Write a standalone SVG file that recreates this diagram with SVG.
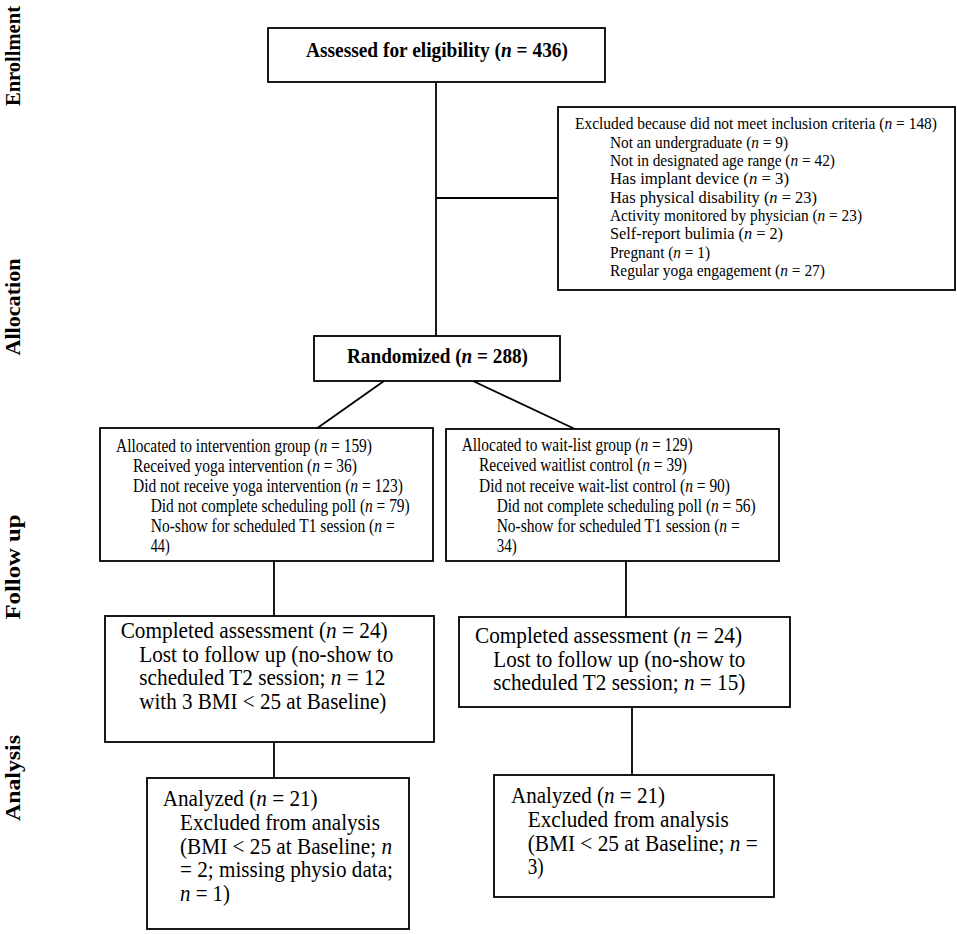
<svg xmlns="http://www.w3.org/2000/svg" width="957" height="934" viewBox="0 0 957 934">
<style>
 .box{fill:#fff;stroke:#000;stroke-width:1.8}
 .ln{stroke:#000;stroke-width:1.8;fill:none}
 text{font-family:"Liberation Serif","Times New Roman",serif;fill:#000}
 .lbl{font-weight:bold;font-size:21px}
 .t{font-weight:bold;font-size:22px}
 .r{font-weight:bold;font-size:20px}
 .s{font-size:17.5px}
 .m{font-size:18px}
 .l{font-size:23px}
 .i{font-style:italic}
</style>
<rect width="957" height="934" fill="#fff"/>
<g id="phases">
 <text class="lbl" transform="translate(20,56) rotate(-90)" text-anchor="middle" textLength="100" lengthAdjust="spacingAndGlyphs">Enrollment</text>
 <text class="lbl" transform="translate(20,307) rotate(-90)" text-anchor="middle" textLength="97" lengthAdjust="spacingAndGlyphs">Allocation</text>
 <text class="lbl" transform="translate(20,567) rotate(-90)" text-anchor="middle" textLength="105" lengthAdjust="spacingAndGlyphs">Follow up</text>
 <text class="lbl" transform="translate(20,778) rotate(-90)" text-anchor="middle" textLength="86" lengthAdjust="spacingAndGlyphs">Analysis</text>
</g>
<g id="connectors">
 <path class="ln" d="M436 82V336"/>
 <path class="ln" d="M436 198H558"/>
 <path class="ln" d="M384 381L316 429"/>
 <path class="ln" d="M473 381L577 430"/>
 <path class="ln" d="M274 561V616"/>
 <path class="ln" d="M626 561V617"/>
 <path class="ln" d="M274 742V778"/>
 <path class="ln" d="M632 707V775"/>
</g>
<g id="assessed">
 <rect class="box" x="268" y="28" width="337" height="54"/>
 <text class="t" x="306" y="57" textLength="262" lengthAdjust="spacingAndGlyphs">Assessed for eligibility (<tspan class="i">n</tspan> = 436)</text>
</g>
<g id="excluded">
 <rect class="box" x="558" y="107" width="397" height="183"/>
 <text class="s" x="575" y="129.3" textLength="362" lengthAdjust="spacingAndGlyphs">Excluded because did not meet inclusion criteria (<tspan class="i">n</tspan> = 148)</text>
 <text class="s" x="610" y="147.7" textLength="178" lengthAdjust="spacingAndGlyphs">Not an undergraduate (<tspan class="i">n</tspan> = 9)</text>
 <text class="s" x="610" y="166" textLength="225" lengthAdjust="spacingAndGlyphs">Not in designated age range (<tspan class="i">n</tspan> = 42)</text>
 <text class="s" x="610" y="184.3" textLength="179" lengthAdjust="spacingAndGlyphs">Has implant device (<tspan class="i">n</tspan> = 3)</text>
 <text class="s" x="610" y="202.7" textLength="207" lengthAdjust="spacingAndGlyphs">Has physical disability (<tspan class="i">n</tspan> = 23)</text>
 <text class="s" x="610" y="221" textLength="252" lengthAdjust="spacingAndGlyphs">Activity monitored by physician (<tspan class="i">n</tspan> = 23)</text>
 <text class="s" x="610" y="239.3" textLength="173" lengthAdjust="spacingAndGlyphs">Self-report bulimia (<tspan class="i">n</tspan> = 2)</text>
 <text class="s" x="610" y="257.7" textLength="100" lengthAdjust="spacingAndGlyphs">Pregnant (<tspan class="i">n</tspan> = 1)</text>
 <text class="s" x="610" y="276" textLength="215" lengthAdjust="spacingAndGlyphs">Regular yoga engagement (<tspan class="i">n</tspan> = 27)</text>
</g>
<g id="randomized">
 <rect class="box" x="314" y="336" width="246" height="45"/>
 <text class="r" x="347" y="363" textLength="181" lengthAdjust="spacingAndGlyphs">Randomized (<tspan class="i">n</tspan> = 288)</text>
</g>
<g id="intervention">
 <rect class="box" x="100" y="428" width="333" height="133"/>
 <text class="m" x="116" y="451.7" textLength="256" lengthAdjust="spacingAndGlyphs">Allocated to intervention group (<tspan class="i">n</tspan> = 159)</text>
 <text class="m" x="133" y="471.7" textLength="224" lengthAdjust="spacingAndGlyphs">Received yoga intervention (<tspan class="i">n</tspan> = 36)</text>
 <text class="m" x="133" y="491.7" textLength="270" lengthAdjust="spacingAndGlyphs">Did not receive yoga intervention (<tspan class="i">n</tspan> = 123)</text>
 <text class="m" x="150.7" y="511.7" textLength="259" lengthAdjust="spacingAndGlyphs">Did not complete scheduling poll (<tspan class="i">n</tspan> = 79)</text>
 <text class="m" x="150.7" y="531.7" textLength="244" lengthAdjust="spacingAndGlyphs">No-show for scheduled T1 session (<tspan class="i">n</tspan> =</text>
 <text class="m" x="150.7" y="551.7" textLength="19" lengthAdjust="spacingAndGlyphs">44)</text>
</g>
<g id="waitlist">
 <rect class="box" x="446" y="429" width="333" height="132"/>
 <text class="m" x="461.7" y="451" textLength="231" lengthAdjust="spacingAndGlyphs">Allocated to wait-list group (<tspan class="i">n</tspan> = 129)</text>
 <text class="m" x="479" y="471.3" textLength="208" lengthAdjust="spacingAndGlyphs">Received waitlist control (<tspan class="i">n</tspan> = 39)</text>
 <text class="m" x="479" y="491.7" textLength="251" lengthAdjust="spacingAndGlyphs">Did not receive wait-list control (<tspan class="i">n</tspan> = 90)</text>
 <text class="m" x="496.7" y="511.7" textLength="259" lengthAdjust="spacingAndGlyphs">Did not complete scheduling poll (<tspan class="i">n</tspan> = 56)</text>
 <text class="m" x="496.7" y="531.7" textLength="243" lengthAdjust="spacingAndGlyphs">No-show for scheduled T1 session (<tspan class="i">n</tspan> =</text>
 <text class="m" x="496.7" y="551.7" textLength="20" lengthAdjust="spacingAndGlyphs">34)</text>
</g>
<g id="completed-left">
 <rect class="box" x="105" y="616" width="329" height="126"/>
 <text class="l" x="120.7" y="638" textLength="267" lengthAdjust="spacingAndGlyphs">Completed assessment (<tspan class="i">n</tspan> = 24)</text>
 <text class="l" x="139.3" y="661.5" textLength="254" lengthAdjust="spacingAndGlyphs">Lost to follow up (no-show to</text>
 <text class="l" x="139.3" y="685" textLength="246" lengthAdjust="spacingAndGlyphs">scheduled T2 session; <tspan class="i">n</tspan> = 12</text>
 <text class="l" x="139.3" y="708.5" textLength="247" lengthAdjust="spacingAndGlyphs">with 3 BMI &lt; 25 at Baseline)</text>
</g>
<g id="completed-right">
 <rect class="box" x="459" y="617" width="331" height="90"/>
 <text class="l" x="475" y="643" textLength="267" lengthAdjust="spacingAndGlyphs">Completed assessment (<tspan class="i">n</tspan> = 24)</text>
 <text class="l" x="493.3" y="666.5" textLength="252" lengthAdjust="spacingAndGlyphs">Lost to follow up (no-show to</text>
 <text class="l" x="493.3" y="690" textLength="252" lengthAdjust="spacingAndGlyphs">scheduled T2 session; <tspan class="i">n</tspan> = 15)</text>
</g>
<g id="analyzed-left">
 <rect class="box" x="147" y="778" width="262" height="151"/>
 <text class="l" x="162.7" y="806" textLength="155" lengthAdjust="spacingAndGlyphs">Analyzed (<tspan class="i">n</tspan> = 21)</text>
 <text class="l" x="180" y="830" textLength="200" lengthAdjust="spacingAndGlyphs">Excluded from analysis</text>
 <text class="l" x="180" y="853.7" textLength="212" lengthAdjust="spacingAndGlyphs">(BMI &lt; 25 at Baseline; <tspan class="i">n</tspan></text>
 <text class="l" x="180" y="877.3" textLength="213" lengthAdjust="spacingAndGlyphs">= 2; missing physio data;</text>
 <text class="l" x="180" y="901" textLength="50" lengthAdjust="spacingAndGlyphs"><tspan class="i">n</tspan> = 1)</text>
</g>
<g id="analyzed-right">
 <rect class="box" x="494" y="775" width="280" height="122"/>
 <text class="l" x="511" y="803" textLength="154" lengthAdjust="spacingAndGlyphs">Analyzed (<tspan class="i">n</tspan> = 21)</text>
 <text class="l" x="527.7" y="827" textLength="201" lengthAdjust="spacingAndGlyphs">Excluded from analysis</text>
 <text class="l" x="527.7" y="850.7" textLength="230" lengthAdjust="spacingAndGlyphs">(BMI &lt; 25 at Baseline; <tspan class="i">n</tspan> =</text>
 <text class="l" x="527.7" y="874.3" textLength="16" lengthAdjust="spacingAndGlyphs">3)</text>
</g>
</svg>
